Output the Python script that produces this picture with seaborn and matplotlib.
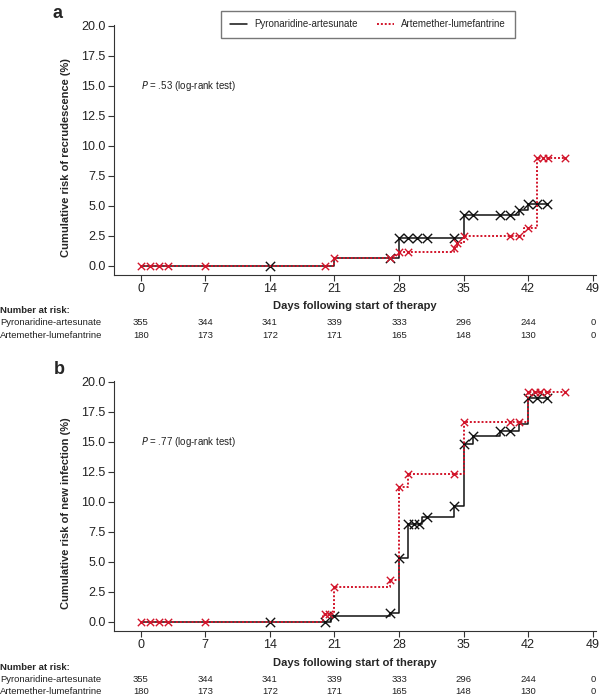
import numpy as np
import pandas as pd
import matplotlib
matplotlib.use('Agg')
import matplotlib.pyplot as plt
from matplotlib.lines import Line2D
from matplotlib.transforms import blended_transform_factory
import seaborn as sns

# ---- data ----
groups = ['Pyronaridine-artesunate', 'Artemether-lumefantrine']
risk_days = [0, 7, 14, 21, 28, 35, 42, 49]
at_risk_pa = [355, 344, 341, 339, 333, 296, 244, 0]
at_risk_al = [180, 173, 172, 171, 165, 148, 130, 0]

# panel a: recrudescence (step times, cumulative risk %)
a_pa_t = [0, 21, 28, 35, 41, 42, 44]
a_pa_y = [0.0, 0.6, 2.3, 4.25, 4.65, 5.1, 5.1]
a_pa_cens = [14, 27, 28, 29, 30, 31, 34, 35, 36, 39, 40, 41, 42, 43, 44]
a_al_t = [0, 21, 27.5, 28, 34, 34.3, 35, 41.5, 43, 46]
a_al_y = [0.0, 0.6, 0.85, 1.1, 1.5, 1.9, 2.45, 3.1, 8.95, 8.95]
a_al_cens = [0, 1, 2, 3, 7, 20, 21, 27, 28, 29, 34, 34.3, 35, 40, 41, 42,
             43, 43.6, 44.2, 46]

# panel b: new infection
b_pa_t = [0, 20.6, 27, 28, 29, 30.5, 34, 35, 36, 39, 41, 42, 44]
b_pa_y = [0.0, 0.45, 0.75, 5.3, 8.1, 8.7, 9.6, 14.8, 15.5, 15.9, 16.5, 18.6, 18.6]
b_pa_cens = [14, 20, 21, 27, 28, 29, 29.6, 30.2, 31, 34, 35, 36, 39, 40,
             42, 43, 44]
b_al_t = [0, 19.8, 21, 27, 28, 29, 35, 42, 46]
b_al_y = [0.0, 0.6, 2.9, 3.5, 11.2, 12.3, 16.6, 19.1, 19.1]
b_al_cens = [0, 1, 2, 3, 7, 20, 20.4, 21, 27, 28, 29, 34, 35, 40, 41, 42,
             42.7, 43.3, 44, 46]

ylabels = ['Cumulative risk of recrudescence (%)',
           'Cumulative risk of new infection (%)']
pvals = ['.53', '.77']
panel_tags = ['a', 'b']

RED = '#d2142a'
sns.set_style('ticks')
plt.rcParams['font.family'] = ['Liberation Sans', 'DejaVu Sans']


def step_value(times, vals, t):
    idx = np.searchsorted(times, t, side='right') - 1
    return np.asarray(vals)[idx]


def draw_curve(ax, times, vals, cens, color, ls, lw, ms, z):
    df = pd.DataFrame({'day': times, 'risk': vals})
    sns.lineplot(data=df, x='day', y='risk', ax=ax, color=color,
                 drawstyle='steps-post', linestyle=ls, linewidth=lw,
                 estimator=None, sort=False, zorder=z)
    cdf = pd.DataFrame({'day': cens,
                        'risk': [step_value(times, vals, c) for c in cens]})
    sns.scatterplot(data=cdf, x='day', y='risk', ax=ax, marker='x', s=ms,
                    color=color, linewidth=1.0, zorder=z + 1)


fig = plt.figure(figsize=(6, 6.97), dpi=100)
ax_a = fig.add_axes([0.19, 0.6055, 0.803, 0.3587])
ax_b = fig.add_axes([0.19, 0.0947, 0.803, 0.3587])

panels = [
    (ax_a, (a_pa_t, a_pa_y, a_pa_cens), (a_al_t, a_al_y, a_al_cens)),
    (ax_b, (b_pa_t, b_pa_y, b_pa_cens), (b_al_t, b_al_y, b_al_cens)),
]
row_px = [(306, 310, 322.5, 335), (663, 667, 679.5, 692)]

for i, (ax, pa, al) in enumerate(panels):
    draw_curve(ax, *pa, color='#111111', ls='-', lw=1.1, ms=45, z=3)
    draw_curve(ax, *al, color=RED, ls=(0, (1, 1)), lw=1.4, ms=28, z=4)

    ax.set_xlim(-2.89, 49.33)
    ax.set_ylim(-0.78, 20.05)
    ax.set_xticks(risk_days)
    ax.set_yticks(np.arange(0, 20.1, 2.5))
    ax.set_yticklabels([f'{v:.1f}' for v in np.arange(0, 20.1, 2.5)])
    ax.tick_params(labelsize=9, length=4, width=0.8, color='#333333',
                   labelcolor='#222222', pad=2)
    for sp in ['left', 'bottom']:
        ax.spines[sp].set_linewidth(0.8)
        ax.spines[sp].set_color('#333333')
    sns.despine(ax=ax)
    ax.set_xlabel('')
    ax.set_ylabel(ylabels[i], fontsize=8, fontweight='bold', labelpad=3)
    ax.yaxis.set_label_coords(-0.09, 0.47)

    ax.text(0, 15.0, f'$P$ = {pvals[i]} (log-rank test)', fontsize=7,
            ha='left', va='center', color='#222222')

    # x label and number-at-risk table
    xlab_y, nar_y, r1_y, r2_y = [1 - p / 697 for p in row_px[i]]
    tr = blended_transform_factory(ax.transData, fig.transFigure)
    fig.text(0.591, xlab_y, 'Days following start of therapy', fontsize=8,
             fontweight='bold', ha='center', va='center')
    fig.text(0.0, nar_y, 'Number at risk:', fontsize=6.8, fontweight='bold',
             ha='left', va='center')
    fig.text(0.0, r1_y, groups[0], fontsize=6.8, ha='left', va='center',
             color='#222222')
    fig.text(0.0, r2_y, groups[1], fontsize=6.8, ha='left', va='center',
             color='#222222')
    for d, n1, n2 in zip(risk_days, at_risk_pa, at_risk_al):
        ax.text(d, r1_y, str(n1), transform=tr, fontsize=6.8, ha='center',
                va='center', color='#222222')
        ax.text(d, r2_y, str(n2), transform=tr, fontsize=6.8, ha='center',
                va='center', color='#222222')

fig.text(0.088, 1 - 14 / 697, panel_tags[0], fontsize=13, fontweight='bold',
         ha='left', va='center')
fig.text(0.09, 1 - 369 / 697, panel_tags[1], fontsize=13, fontweight='bold',
         ha='left', va='center')

handles = [Line2D([], [], color='#111111', lw=1.1),
           Line2D([], [], color=RED, lw=1.4, linestyle=(0, (1, 1)))]
leg = fig.legend(handles, groups, loc='center', bbox_to_anchor=(0.613, 0.965),
                 ncol=2, fontsize=7, frameon=True, fancybox=False,
                 edgecolor='#555555', handlelength=1.8, columnspacing=2.0,
                 borderpad=0.9, handletextpad=0.7, borderaxespad=0)
leg.get_frame().set_linewidth(1.0)

fig.savefig('out.png', dpi=100)
